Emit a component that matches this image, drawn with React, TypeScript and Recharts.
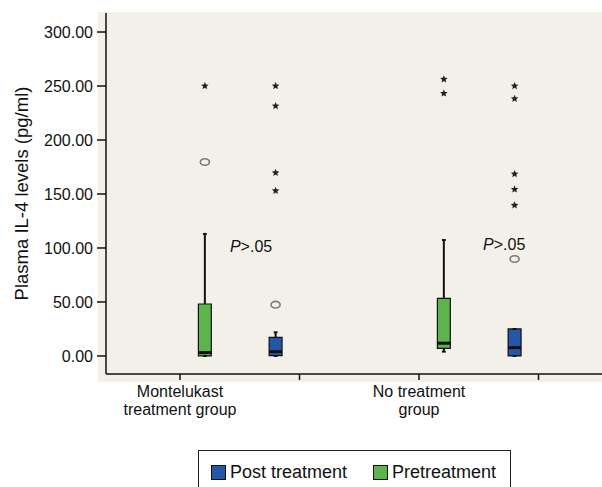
import React from 'react'
import { ScatterChart, Scatter, XAxis, YAxis, ReferenceArea, ReferenceLine } from 'recharts'

const categoryLines = [['Montelukast', 'treatment group'], ['No treatment', 'group']]
const yTicks = [0, 50, 100, 150, 200, 250, 300]
const xTicks = [1, 1.5, 2, 2.5]

// box stats: [min, q1, median, q3, max]
const preStats = [
  [0, 0, 3.1, 48.1, 113],
  [4.0, 7.1, 11.8, 53.4, 107.4],
]
const postStats = [
  [0, 0.3, 4.0, 17.3, 21.9],
  [0, 0, 7.7, 25, 25],
]
const preCircles = [[179.6], []]
const postCircles = [[47.5], [89.8]]
const preStars = [[250], [256.2, 243.2]]
const postStars = [[250, 231.5, 169.7, 153], [250, 238.2, 168.5, 154.3, 139.5]]
const pLabels = [
  { group: 1, x: 1.209, y: 96.3, text: '.05' },
  { group: 2, x: 2.268, y: 98.1, text: '.05' },
]

const PRE_COLOR = '#5db44b'
const POST_COLOR = '#2557a7'
const PRE_OFFSET = 0.104
const POST_OFFSET = 0.4
const HALF_BOX = 0.027
const CAP = 0.008

const font = 'Liberation Sans, Arial, Helvetica, sans-serif'

const toPoints = (lists: number[][], offset: number) =>
  lists.flatMap((vals, i) => vals.map((v) => ({ x: i + 1 + offset, y: v })))

const Star = ({ cx, cy }: any) => {
  const pts: string[] = []
  for (let k = 0; k < 10; k++) {
    const r = k % 2 === 0 ? 4 : 1.8
    const a = -Math.PI / 2 + (k * Math.PI) / 5
    pts.push(`${cx + r * Math.cos(a)},${cy + r * Math.sin(a)}`)
  }
  return <polygon points={pts.join(' ')} fill="#222" />
}

const Ring = ({ cx, cy }: any) => (
  <ellipse cx={cx} cy={cy} rx={4.5} ry={3.3} fill="none" stroke="#7a7a7a" strokeWidth={1.6} />
)

const PText = ({ cx, cy, payload }: any) => (
  <text x={cx} y={cy} fontSize={16} fontFamily={font} fill="#111">
    <tspan fontStyle="italic">P</tspan>
    <tspan>{'>' + payload.text}</tspan>
  </text>
)

const CategoryTick = ({ x, y, payload }: any) => {
  const idx = payload.value === 1 ? 0 : payload.value === 2 ? 1 : -1
  if (idx < 0) return null
  return (
    <text x={x} y={y} textAnchor="middle" fontSize={16} fontFamily={font} fill="#111">
      {categoryLines[idx].map((line, j) => (
        <tspan key={j} x={x} dy={j === 0 ? 15 : 18}>
          {line}
        </tspan>
      ))}
    </text>
  )
}

const YLabel = ({ viewBox }: any) => {
  const cy = viewBox.y + viewBox.height / 2
  const cx = 21
  return (
    <text
      x={cx}
      y={cy}
      textAnchor="middle"
      dominantBaseline="central"
      fontSize={18.5}
      fontFamily={font}
      fill="#111"
      transform={`rotate(-90, ${cx}, ${cy})`}
    >
      Plasma IL-4 levels (pg/ml)
    </text>
  )
}

function renderBox(stats: number[], center: number, color: string, key: string) {
  const [min, q1, med, q3, max] = stats
  return [
    <ReferenceLine key={key + 'wu'} segment={[{ x: center, y: q3 }, { x: center, y: max }]} stroke="#111" strokeWidth={2} />,
    <ReferenceLine key={key + 'wl'} segment={[{ x: center, y: min }, { x: center, y: q1 }]} stroke="#111" strokeWidth={2} />,
    <ReferenceLine key={key + 'cu'} segment={[{ x: center - CAP, y: max }, { x: center + CAP, y: max }]} stroke="#111" strokeWidth={2} />,
    <ReferenceLine key={key + 'cl'} segment={[{ x: center - CAP, y: min }, { x: center + CAP, y: min }]} stroke="#111" strokeWidth={2} />,
    <ReferenceArea
      key={key + 'b'}
      x1={center - HALF_BOX}
      x2={center + HALF_BOX}
      y1={q1}
      y2={q3}
      fill={color}
      fillOpacity={1}
      stroke="#111"
      strokeWidth={1.2}
    />,
    <ReferenceLine key={key + 'm'} segment={[{ x: center - HALF_BOX, y: med }, { x: center + HALF_BOX, y: med }]} stroke="#111" strokeWidth={3} />,
  ]
}

export default function App() {
  const circles = [...toPoints(preCircles, PRE_OFFSET), ...toPoints(postCircles, POST_OFFSET)]
  const stars = [...toPoints(preStars, PRE_OFFSET), ...toPoints(postStars, POST_OFFSET)]

  return (
    <div style={{ position: 'absolute', left: 0, top: 0, width: 602, height: 487, overflow: 'hidden', background: '#fff' }}>
      <div style={{ position: 'absolute', left: 98, top: 12, width: 504, height: 370, background: '#f3f0e9' }} />
      <div style={{ position: 'absolute', left: 0, top: 0 }}>
        <ScatterChart width={620} height={487} margin={{ top: 13, right: 0, left: 0, bottom: 73 }}>
          <XAxis
            dataKey="x"
            type="number"
            domain={[0.6904, 2.841]}
            ticks={xTicks}
            tick={<CategoryTick />}
            tickSize={6}
            height={40}
            axisLine={{ stroke: '#111', strokeWidth: 1.5 }}
            tickLine={{ stroke: '#111', strokeWidth: 1.5 }}
            allowDataOverflow
          />
          <XAxis
            xAxisId="top"
            orientation="top"
            type="number"
            domain={[0, 1]}
            height={0}
            tick={false}
            tickLine={false}
            axisLine={{ stroke: '#666', strokeWidth: 2 }}
          />
          <YAxis
            dataKey="y"
            type="number"
            domain={[-16.7, 317.6]}
            ticks={yTicks}
            width={106}
            tickSize={9}
            tickMargin={4}
            tickFormatter={(v: number) => v.toFixed(2)}
            tick={{ fill: '#111', fontSize: 16, fontFamily: font }}
            axisLine={{ stroke: '#111', strokeWidth: 1.5 }}
            tickLine={{ stroke: '#111', strokeWidth: 1.5 }}
            label={YLabel}
            allowDataOverflow
          />
          {preStats.flatMap((s, i) => renderBox(s, i + 1 + PRE_OFFSET, PRE_COLOR, 'pre' + i))}
          {postStats.flatMap((s, i) => renderBox(s, i + 1 + POST_OFFSET, POST_COLOR, 'post' + i))}
          <Scatter data={circles} dataKey="y" shape={<Ring />} isAnimationActive={false} />
          <Scatter data={stars} dataKey="y" shape={<Star />} isAnimationActive={false} />
          <Scatter data={pLabels} dataKey="y" shape={<PText />} isAnimationActive={false} />
        </ScatterChart>
      </div>
      <div
        style={{
          position: 'absolute',
          left: 198,
          top: 450,
          width: 311,
          height: 60,
          border: '1px solid #222',
          background: '#fff',
          fontFamily: font,
          fontSize: 18,
          color: '#111',
        }}
      >
        <div style={{ position: 'absolute', left: 12, top: 11, display: 'flex', alignItems: 'center' }}>
          <span style={{ display: 'inline-block', width: 13, height: 13, background: POST_COLOR, border: '1px solid #111', marginRight: 4 }} />
          <span>Post treatment</span>
        </div>
        <div style={{ position: 'absolute', left: 174, top: 11, display: 'flex', alignItems: 'center' }}>
          <span style={{ display: 'inline-block', width: 13, height: 13, background: PRE_COLOR, border: '1px solid #111', marginRight: 4 }} />
          <span>Pretreatment</span>
        </div>
      </div>
    </div>
  )
}
